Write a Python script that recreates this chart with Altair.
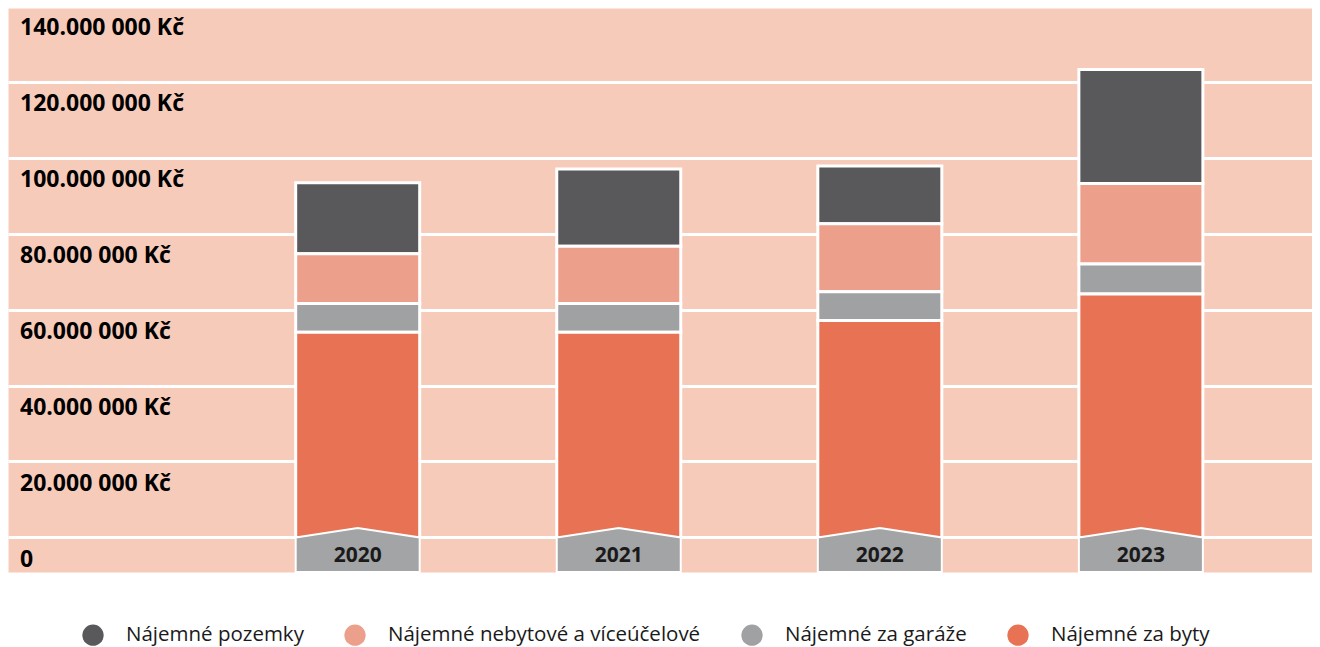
import altair as alt
import pandas as pd

# ---- data ----
years = ["2020", "2021", "2022", "2023"]
categories = [
    "Nájemné pozemky",
    "Nájemné nebytové a víceúčelové",
    "Nájemné za garáže",
    "Nájemné za byty",
]
pozemky = [18.7e6, 20.3e6, 15.2e6, 30.0e6]
nebytove = [13.1e6, 15.1e6, 17.9e6, 21.2e6]
garaze = [7.6e6, 7.6e6, 7.6e6, 7.9e6]
byty = [54.0e6, 54.0e6, 57.1e6, 64.1e6]

tick_values = [0, 20e6, 40e6, 60e6, 80e6, 100e6, 120e6, 140e6]
tick_labels = ["0", "20.000 000 Kč", "40.000 000 Kč", "60.000 000 Kč",
               "80.000 000 Kč", "100.000 000 Kč", "120.000 000 Kč", "140.000 000 Kč"]

colors = ["#59595B", "#ECA08B", "#A0A1A3", "#E87254"]
bg = "#F7CBB9"
label_gray = "#A3A4A6"

series = [pozemky, nebytove, garaze, byty]
stack_rank = [3, 2, 1, 0]  # byty at the bottom

rows = []
for cat, vals, rk in zip(categories, series, stack_rank):
    for y, v in zip(years, vals):
        rows.append({"year": y, "category": cat, "value": v, "rank": rk})
df = pd.DataFrame(rows)

ticks_df = pd.DataFrame({"v": tick_values, "label": tick_labels})
years_df = pd.DataFrame({"year": years})

y_domain = [-9.1e6, 139.4e6]
grid_vals = [v for v in tick_values if v <= y_domain[1]]

x_scale = alt.Scale(domain=years, paddingInner=0.525, paddingOuter=0.76, align=0.725)
y_scale = alt.Scale(domain=y_domain, nice=False, zero=False)

bars = alt.Chart(df).mark_bar(stroke="white", strokeWidth=3).encode(
    x=alt.X("year:N", scale=x_scale, axis=None),
    y=alt.Y("value:Q", stack="zero", scale=y_scale,
            axis=alt.Axis(values=grid_vals, grid=True, gridColor="white", gridWidth=3,
                          gridOpacity=1, labels=False, ticks=False, domain=False, title=None)),
    color=alt.Color("category:N",
                    scale=alt.Scale(domain=categories, range=colors),
                    legend=alt.Legend(title=None, orient="none", direction="horizontal",
                                      legendX=74, legendY=616,
                                      symbolType="circle", symbolSize=452,
                                      symbolStrokeWidth=0, symbolOpacity=1,
                                      labelFont="Open Sans", labelFontSize=20.5,
                                      labelColor="#1A1A1A", labelOffset=22,
                                      columnPadding=40, labelLimit=500)),
    order=alt.Order("rank:Q", sort="ascending"),
)

chevron_path = "M-1,0 L0,-0.153 L1,0 L1,0.556 L-1,0.556 Z"
label_box = alt.Chart(years_df).mark_point(
    shape=chevron_path, size=124 * 124, filled=True, fill=label_gray,
    stroke="white", strokeWidth=2, opacity=1
).encode(
    x=alt.X("year:N", scale=x_scale),
    y=alt.datum(0, scale=y_scale),
)

year_text = alt.Chart(years_df).mark_text(
    font="Open Sans", fontWeight="bold", fontSize=21, color="#1A1A1A",
    baseline="middle", align="center", dy=19
).encode(
    x=alt.X("year:N", scale=x_scale),
    y=alt.datum(0, scale=y_scale),
    text="year:N",
)

ylabels = alt.Chart(ticks_df).mark_text(
    font="Open Sans", fontWeight="bold", fontSize=23, color="#000000",
    align="left", baseline="middle", dy=22.5
).encode(
    x=alt.value(12),
    y=alt.Y("v:Q", scale=y_scale),
    text="label:N",
)

chart = alt.layer(bars, label_box, year_text, ylabels).properties(
    width=1304, height=564, padding=0
).configure_view(fill=bg, stroke="transparent")

chart.save("out.html", embed_options={"renderer": "svg", "actions": False})
